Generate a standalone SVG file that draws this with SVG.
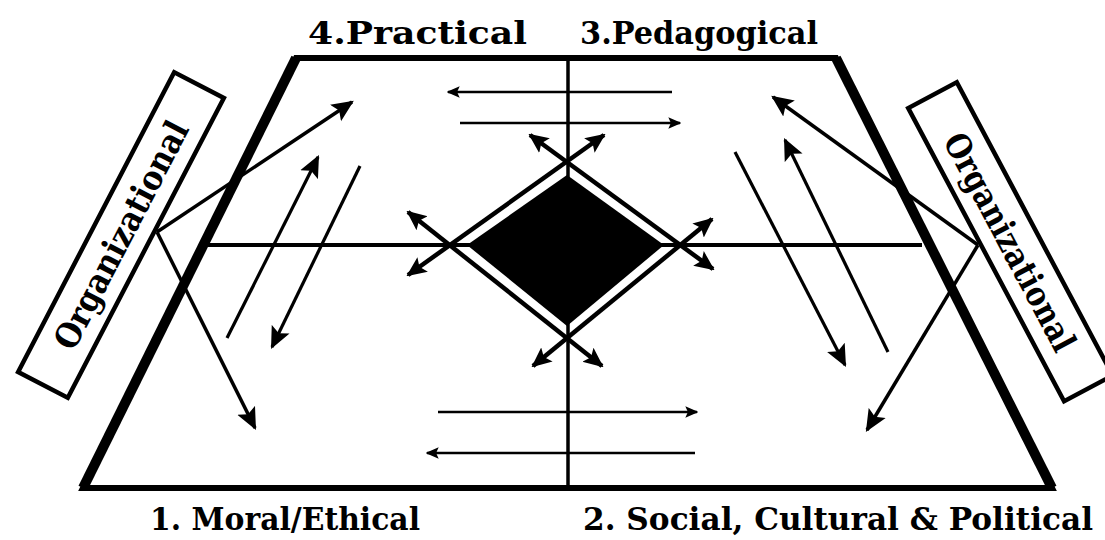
<svg xmlns="http://www.w3.org/2000/svg" width="1105" height="540" viewBox="0 0 1105 540">
<style>
.lbl{font-family:"DejaVu Serif","Liberation Serif",serif;font-weight:bold;fill:#000}
.ln{stroke:#000;fill:none;stroke-linecap:butt}
.big{stroke-width:3.5;marker-end:url(#ah)}
.mid{stroke-width:3.2;marker-end:url(#ah)}
.hz{stroke-width:2.6;marker-end:url(#ahs)}
.dia{stroke-width:4.5;marker-start:url(#ahd);marker-end:url(#ahd)}
.box{fill:#fff;stroke:#000;stroke-width:4.5}
</style>
<defs>
<marker id="ah" markerUnits="userSpaceOnUse" viewBox="0 0 20 20" refX="18" refY="10" markerWidth="22" markerHeight="22" orient="auto">
<path d="M0,1 L20,10 L0,19 L4,10 Z" fill="#000"/>
</marker>
<marker id="ahd" markerUnits="userSpaceOnUse" viewBox="0 0 20 20" refX="18" refY="10" markerWidth="20" markerHeight="20" orient="auto-start-reverse">
<path d="M0,1 L20,10 L0,19 L4,10 Z" fill="#000"/>
</marker>
<marker id="ahs" markerUnits="userSpaceOnUse" viewBox="0 0 20 20" refX="18" refY="10" markerWidth="13" markerHeight="13" orient="auto">
<path d="M0,1 L20,10 L0,19 L4,10 Z" fill="#000"/>
</marker>
</defs>
<rect width="1105" height="540" fill="#fff"/>

<g id="frame">
<polygon points="296,58 836,58 1052,488 83,488" fill="none" stroke="#000" stroke-width="6" stroke-linejoin="miter"/>
<line class="ln" x1="296" y1="58" x2="83" y2="488" stroke-width="10"/>
<line class="ln" x1="836" y1="58" x2="1052" y2="488" stroke-width="10"/>
<line class="ln" x1="568" y1="58" x2="568" y2="488" stroke-width="3.5"/>
<line class="ln" x1="204" y1="245" x2="922" y2="245" stroke-width="4"/>
</g>

<g id="center-diamond">
<polygon points="567,175 664,245 567,326 467,245" fill="#000"/>
</g>

<g id="connectors">
<line class="ln dia" x1="408" y1="275" x2="604" y2="135"/>
<line class="ln dia" x1="530" y1="135" x2="713" y2="269"/>
<line class="ln dia" x1="712" y1="219" x2="533" y2="366"/>
<line class="ln dia" x1="408" y1="212" x2="602" y2="366"/>

<line class="ln big" x1="157" y1="232" x2="352" y2="102"/>
<line class="ln big" x1="157" y1="232" x2="255" y2="428"/>
<line class="ln mid" x1="227" y1="338" x2="318" y2="157"/>
<line class="ln mid" x1="360" y1="166" x2="272" y2="347"/>

<line class="ln big" x1="978" y1="245" x2="773" y2="97"/>
<line class="ln big" x1="978" y1="245" x2="867" y2="430"/>
<line class="ln mid" x1="735" y1="152" x2="845" y2="365"/>
<line class="ln mid" x1="888" y1="352" x2="785" y2="140"/>

<line class="ln hz" x1="672" y1="92" x2="448" y2="92"/>
<line class="ln hz" x1="460" y1="123" x2="680" y2="123"/>
<line class="ln hz" x1="438" y1="412" x2="697" y2="412"/>
<line class="ln hz" x1="695" y1="453" x2="427" y2="453"/>
</g>

<g id="org-left" transform="translate(121,235) rotate(-62.5)">
<rect class="box" x="-169" y="-28" width="338" height="56"/>
<text class="lbl" x="0" y="12" font-size="34" text-anchor="middle" textLength="252" lengthAdjust="spacingAndGlyphs">Organizational</text>
</g>

<g id="org-right" transform="translate(1010,242) rotate(62)">
<rect class="box" x="-166" y="-28" width="332" height="55"/>
<text class="lbl" x="0" y="12" font-size="34" text-anchor="middle" textLength="242" lengthAdjust="spacingAndGlyphs">Organizational</text>
</g>

<g id="label-4">
<text class="lbl" x="308" y="44" font-size="32" textLength="219" lengthAdjust="spacingAndGlyphs">4.Practical</text>
</g>
<g id="label-3">
<text class="lbl" x="580" y="44" font-size="32" textLength="238" lengthAdjust="spacingAndGlyphs">3.Pedagogical</text>
</g>
<g id="label-1">
<text class="lbl" x="150" y="530" font-size="32" textLength="270" lengthAdjust="spacingAndGlyphs">1. Moral/Ethical</text>
</g>
<g id="label-2">
<text class="lbl" x="583" y="530" font-size="32" textLength="510" lengthAdjust="spacingAndGlyphs">2. Social, Cultural &amp; Political</text>
</g>
</svg>
